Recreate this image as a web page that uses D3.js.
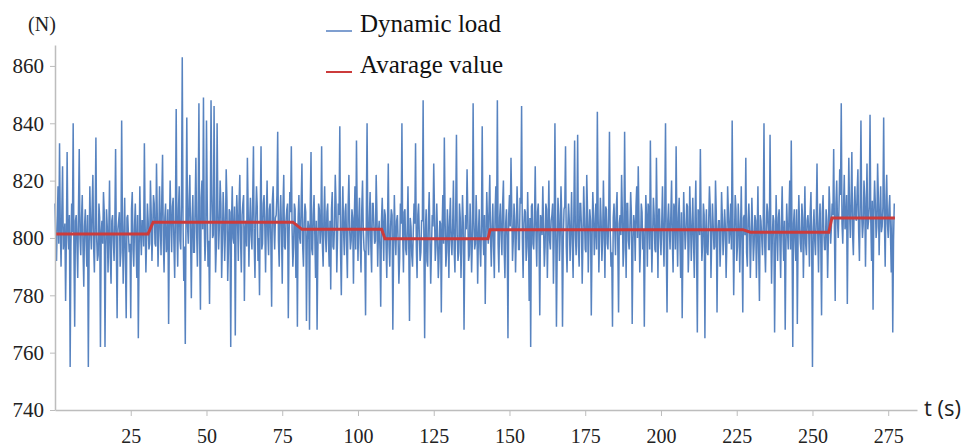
<!DOCTYPE html>
<html>
<head>
<meta charset="utf-8">
<script src="https://cdn.jsdelivr.net/npm/d3@7"></script>
<style>
  html, body { margin: 0; padding: 0; background: #fff; }
  svg { display: block; }
</style>
</head>
<body>
<svg id="chart" width="970" height="446"></svg>
<script>
// ---- data ----
const loadStep = 0.5;        // seconds between samples in each list
// samples at t = 0, 0.5, 1.0, ... (the larger swings)
const loadSamplesA = [
  812,792,818,833,790,825,800,778,830,796,755,812,840,769,808,786,831,794,815,783,
  810,790,755,818,796,822,788,835,792,812,762,806,816,762,810,788,820,784,808,792,
  831,772,806,790,841,784,814,772,808,795,772,816,790,812,786,765,818,794,806,833,
  788,812,796,820,792,815,798,826,790,818,794,829,788,812,798,770,820,795,814,786,
  845,790,818,796,863,785,763,842,798,822,779,815,795,828,790,847,775,820,849,792,
  841,790,777,848,800,846,788,840,796,820,786,816,792,824,785,810,762,818,798,766,
  815,792,822,788,812,778,806,828,790,814,796,832,786,818,792,780,832,798,815,788,
  820,794,812,776,818,796,808,837,790,815,784,822,796,810,772,816,832,790,812,786,
  769,815,798,826,790,812,771,806,768,830,794,815,786,768,812,798,832,790,818,795,
  812,790,782,816,796,822,788,812,839,780,818,794,812,786,822,796,810,784,818,834,
  792,814,788,820,796,773,840,794,816,788,812,798,822,790,806,776,814,792,808,786,
  826,790,810,768,815,794,808,784,812,840,788,810,794,818,771,804,790,812,833,786,
  812,792,806,848,765,810,790,816,784,808,826,792,812,786,806,774,815,835,790,810,
  786,814,794,820,788,836,792,812,786,815,768,808,824,792,812,788,847,796,815,784,
  810,790,839,794,777,816,798,822,790,812,786,818,848,788,812,794,820,786,810,765,
  815,828,792,812,788,818,796,814,846,786,810,792,816,778,762,812,796,825,790,812,
  773,806,818,790,812,786,820,796,808,784,840,769,814,792,818,769,810,832,788,812,
  792,816,786,834,794,836,790,812,784,818,796,822,788,810,773,816,794,812,844,788,
  814,792,820,786,810,796,837,790,769,812,794,816,774,808,822,790,837,786,812,796,
  816,770,808,792,818,825,788,812,796,769,815,790,810,834,788,814,796,828,786,810,
  794,818,790,840,774,812,796,820,788,810,832,790,814,786,772,816,796,812,788,818,
  792,814,786,820,767,808,831,792,812,765,810,794,818,786,812,796,820,774,806,790,
  816,794,810,786,818,798,812,841,780,815,792,812,788,818,774,808,828,790,812,786,
  814,792,808,786,818,778,806,794,840,788,812,796,836,784,808,767,815,792,810,786,
  818,792,768,812,796,820,834,762,810,792,770,815,798,812,786,818,794,808,790,816,
  755,810,794,826,788,812,773,815,796,810,786,818,798,812,831,778,820,800,824,847,
  798,822,806,777,828,800,830,794,818,806,824,792,841,800,820,790,826,806,843,792,
  775,820,800,826,794,818,804,842,790,822,800,815,788,767,812
];
// samples at t = 0.25, 0.75, 1.25, ... (the dense core of the band)
const loadSamplesB = [
  800,806,798,804,809,796,805,799,803,808,797,802,795,806,798,810,800,807,796,804,
  799,808,795,803,810,797,805,800,794,807,802,798,809,796,804,801,793,806,799,805,
  797,803,809,795,806,800,792,807,801,798,810,796,804,799,808,794,802,806,797,805,
  800,806,798,809,803,812,797,808,801,805,814,799,807,795,810,802,806,811,798,808,
  803,810,799,812,806,797,808,804,813,800,807,795,811,802,809,798,814,803,806,800,
  812,799,806,815,801,808,797,810,804,812,798,807,802,813,796,809,805,800,811,803,
  806,812,799,808,815,803,797,810,805,801,813,798,807,811,800,809,796,812,804,807,
  801,810,798,813,804,807,815,799,808,803,811,797,806,812,800,809,803,797,810,805,
  807,800,812,797,805,809,799,804,811,796,808,801,806,795,810,803,798,807,801,809,
  799,806,810,797,804,812,800,808,795,805,802,809,797,811,803,799,807,805,796,808,
  806,798,810,803,795,808,801,807,797,812,804,799,809,802,796,806,803,810,798,805,
  797,804,808,795,802,806,799,793,805,801,809,796,803,798,807,794,802,805,797,808,
  801,795,806,799,803,792,807,800,796,804,809,797,801,793,805,802,798,807,795,803,
  806,799,804,796,809,801,795,807,800,805,797,803,808,794,802,799,806,798,804,801,
  797,805,802,808,799,806,810,800,804,797,809,803,798,807,801,812,796,805,800,808,
  804,810,799,806,801,808,796,812,800,805,809,797,803,807,811,798,806,801,809,799,
  808,801,804,797,810,803,799,806,812,800,805,796,808,802,807,799,811,797,804,806,
  803,798,809,801,806,797,812,804,800,807,795,810,802,806,799,808,803,796,809,801,
  806,800,804,811,798,808,802,795,807,803,810,797,805,801,809,796,806,812,799,804,
  808,798,805,811,800,806,797,809,803,799,807,812,796,804,801,808,795,806,810,800,
  805,801,810,797,806,803,808,799,812,796,804,807,800,809,798,805,802,811,797,806,
  803,799,807,796,810,801,805,798,808,802,795,806,811,800,804,797,809,802,806,799,
  807,801,804,799,809,803,796,806,800,810,797,805,802,798,807,801,795,806,803,799,
  804,798,806,801,795,808,800,805,797,803,809,796,804,800,806,794,803,807,799,805,
  801,806,797,803,808,796,802,805,799,810,800,804,795,807,801,798,806,803,809,797,
  803,799,807,801,805,798,809,802,796,806,800,810,804,808,803,812,806,810,815,805,
  811,803,815,806,809,813,801,810,807,816,802,812,808,805,814,809,803,811,806,813,
  809,812,804,814,808,802,811,806,813,805,810,801,807,799
];
const avgTimes  = [0, 30.7, 32.4, 78.5, 81.5, 107.8, 108.9, 142.9, 143.6, 227, 229.5, 255.4, 256.4, 277.2];
const avgValues = [801.4, 801.4, 805.5, 805.5, 803, 803, 799.7, 799.7, 802.9, 802.9, 802, 802, 807, 807];
const xTicks = [25, 50, 75, 100, 125, 150, 175, 200, 225, 250, 275];
const yTicks = [740, 760, 780, 800, 820, 840, 860];
const legendLabels = ["Dynamic load", "Avarage value"];
const yUnit = "(N)";
const xUnit = "t (s)";

// ---- drawing ----
const svg = d3.select("#chart");
const x = d3.scaleLinear().domain([0, 284.5]).range([55, 917]);
const y = d3.scaleLinear().domain([740, 867.3]).range([410, 45]);
const axisColor = "#bdbdbd";
const SERIF = '"Liberation Serif", Tinos, "Times New Roman", serif';
const SANS = '"Open Sans", "Liberation Sans", sans-serif';

// merge the two sample lists in time order
const loadPts = [];
loadSamplesA.forEach((v, i) => {
  loadPts.push([i * loadStep, v]);
  if (i < loadSamplesB.length) loadPts.push([i * loadStep + loadStep / 2, loadSamplesB[i]]);
});

svg.append("path")
  .datum(loadPts)
  .attr("fill", "none")
  .attr("stroke", "#3a6db5")
  .attr("stroke-width", 1.5)
  .attr("stroke-opacity", 0.85)
  .attr("d", d3.line().x(d => x(d[0])).y(d => y(d[1])));

// average line
const avgPts = avgTimes.map((t, i) => [t, avgValues[i]]);
svg.append("path")
  .datum(avgPts)
  .attr("fill", "none")
  .attr("stroke", "#cc3b3b")
  .attr("stroke-width", 3)
  .attr("d", d3.line().x(d => x(d[0])).y(d => y(d[1])));

// axes
const gx = svg.append("g").attr("transform", "translate(0,410)")
  .call(d3.axisBottom(x).tickValues(xTicks).tickSize(6).tickSizeOuter(0).tickFormat(d3.format("d")));
gx.attr("font-family", null).attr("font-size", null);
gx.select(".domain").attr("stroke", axisColor).attr("stroke-width", 1.5);
gx.selectAll(".tick line").attr("stroke", axisColor);
gx.selectAll(".tick text").attr("y", 33).attr("dy", 0)
  .attr("fill", "#222").style("font-family", SERIF).style("font-size", "20px");

const gy = svg.append("g").attr("transform", "translate(55,0)")
  .call(d3.axisLeft(y).tickValues(yTicks).tickSize(5).tickSizeOuter(0).tickPadding(6));
gy.attr("font-family", null).attr("font-size", null);
gy.select(".domain").attr("stroke", axisColor).attr("stroke-width", 1.5);
gy.selectAll(".tick line").attr("stroke", axisColor);
gy.selectAll(".tick text").attr("fill", "#222").style("font-family", SERIF).style("font-size", "21px");

// unit labels
svg.append("text").attr("x", 42).attr("y", 31).attr("text-anchor", "middle")
  .style("font-family", SERIF).style("font-size", "20px").attr("fill", "#222").text(yUnit);
svg.append("text").attr("x", 924).attr("y", 416)
  .style("font-family", SANS).style("font-size", "22px")
  .attr("fill", "#222").text(xUnit);

// legend
const legendColors = ["#7f9fd0", "#cc3b3b"];
const legendY = [32, 73];
legendLabels.forEach((lab, i) => {
  svg.append("line").attr("x1", 326).attr("x2", 352)
    .attr("y1", legendY[i] - 1).attr("y2", legendY[i] - 1)
    .attr("stroke", legendColors[i]).attr("stroke-width", 2);
  svg.append("text").attr("x", 360).attr("y", legendY[i])
    .style("font-family", SERIF).style("font-size", "25px").attr("fill", "#111").text(lab);
});
</script>
</body>
</html>
